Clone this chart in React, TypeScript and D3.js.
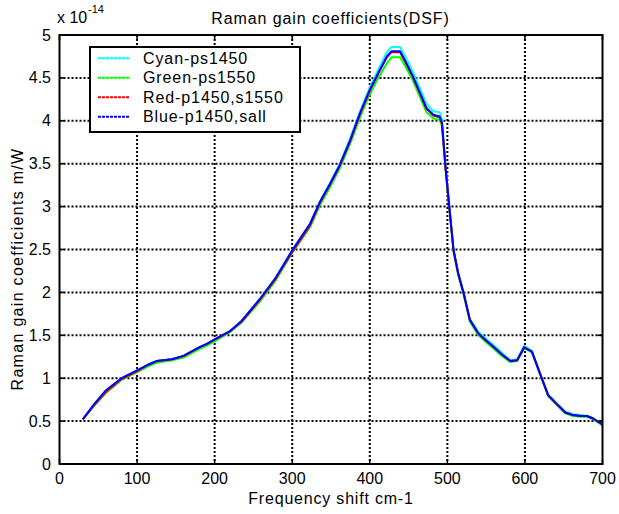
import React from "react";
import * as d3 from "d3";

const shift = [30, 45, 60, 80, 100, 115, 125, 145, 160, 180, 190, 202, 220, 235, 258, 278, 300, 323, 336, 349, 361, 375, 387, 400, 411, 422, 428, 439, 445, 456, 465, 473, 482, 490, 493, 498, 503, 508, 514, 521, 529, 540, 551, 559, 570, 581, 590, 599, 609, 620, 630, 641, 652, 662, 672, 680, 688, 700];

const cyan = [0.52, 0.70, 0.86, 1.00, 1.09, 1.16, 1.20, 1.22, 1.26, 1.36, 1.40, 1.46, 1.55, 1.67, 1.92, 2.16, 2.49, 2.80, 3.06, 3.28, 3.49, 3.80, 4.10, 4.39, 4.60, 4.80, 4.86, 4.86, 4.76, 4.56, 4.37, 4.20, 4.11, 4.10, 4.02, 3.44, 2.96, 2.50, 2.23, 2.00, 1.69, 1.54, 1.45, 1.39, 1.30, 1.21, 1.22, 1.38, 1.32, 1.05, 0.81, 0.71, 0.61, 0.58, 0.57, 0.56, 0.53, 0.46];
const green = [0.52, 0.68, 0.83, 0.98, 1.07, 1.14, 1.18, 1.21, 1.24, 1.34, 1.38, 1.44, 1.54, 1.65, 1.89, 2.13, 2.46, 2.76, 3.02, 3.23, 3.44, 3.74, 4.03, 4.31, 4.50, 4.67, 4.74, 4.74, 4.65, 4.46, 4.27, 4.10, 4.03, 4.01, 3.94, 3.40, 2.93, 2.47, 2.20, 1.97, 1.66, 1.50, 1.41, 1.35, 1.26, 1.19, 1.20, 1.35, 1.30, 1.03, 0.79, 0.69, 0.59, 0.56, 0.55, 0.55, 0.52, 0.45];
const red = [0.52, 0.69, 0.84, 0.99, 1.08, 1.16, 1.20, 1.22, 1.26, 1.36, 1.40, 1.46, 1.55, 1.66, 1.91, 2.15, 2.47, 2.78, 3.05, 3.26, 3.47, 3.77, 4.07, 4.35, 4.55, 4.74, 4.80, 4.80, 4.70, 4.50, 4.31, 4.14, 4.06, 4.04, 3.97, 3.42, 2.95, 2.49, 2.22, 1.99, 1.68, 1.52, 1.43, 1.37, 1.28, 1.20, 1.21, 1.36, 1.31, 1.04, 0.80, 0.70, 0.60, 0.57, 0.56, 0.56, 0.53, 0.46];
const blue = [0.52, 0.70, 0.86, 1.00, 1.09, 1.16, 1.20, 1.22, 1.26, 1.36, 1.40, 1.46, 1.55, 1.67, 1.92, 2.16, 2.49, 2.80, 3.06, 3.27, 3.48, 3.78, 4.08, 4.36, 4.56, 4.75, 4.81, 4.81, 4.71, 4.51, 4.32, 4.15, 4.07, 4.05, 3.98, 3.42, 2.95, 2.49, 2.22, 1.99, 1.68, 1.52, 1.43, 1.37, 1.28, 1.20, 1.21, 1.36, 1.31, 1.04, 0.80, 0.70, 0.60, 0.57, 0.56, 0.56, 0.53, 0.46];

const seriesNames = ["Cyan-ps1450", "Green-ps1550", "Red-p1450,s1550", "Blue-p1450,sall"];
const seriesColors = ["#00ffff", "#00ff00", "#ff0000", "#0000ff"];
const seriesValues = [cyan, green, red, blue];

const xTicks = [0, 100, 200, 300, 400, 500, 600, 700];
const yTicks = [0, 0.5, 1, 1.5, 2, 2.5, 3, 3.5, 4, 4.5, 5];

const W = 619, H = 514;
const L = 59.5, R = 602.5, T = 35, B = 464;
const FONT = "'Liberation Sans', Arial, Helvetica, sans-serif";

export default function App() {
  const x = d3.scaleLinear().domain([0, 700]).range([L, R]);
  const y = d3.scaleLinear().domain([0, 5]).range([B, T]);
  const line = d3.line<[number, number]>().x(d => x(d[0])).y(d => y(d[1]));

  return (
    <svg width={W} height={H} style={{ position: "absolute", left: 0, top: 0, background: "#fff" }} fontFamily={FONT}>
      <rect x={0} y={0} width={W} height={H} fill="#fff" />
      {/* grid */}
      {xTicks.slice(1, -1).map(t => (
        <line key={"gx" + t} x1={x(t)} x2={x(t)} y1={T} y2={B} stroke="#000" strokeWidth={2} strokeDasharray="2,2" />
      ))}
      {yTicks.slice(1, -1).map(t => (
        <line key={"gy" + t} x1={L} x2={R} y1={y(t)} y2={y(t)} stroke="#000" strokeWidth={2} strokeDasharray="2,2" />
      ))}
      {/* curves */}
      {seriesValues.map((vals, i) => (
        <path key={"s" + i} d={line(shift.map((s, j) => [s, vals[j]]) as [number, number][]) || ""} fill="none" stroke={seriesColors[i]} strokeWidth={2} strokeLinejoin="round" />
      ))}
      {/* axes box */}
      <rect x={L} y={T} width={R - L} height={B - T} fill="none" stroke="#000" strokeWidth={2} />
      {/* ticks */}
      {xTicks.map(t => (
        <g key={"tx" + t}>
          <line x1={x(t)} x2={x(t)} y1={B} y2={B - 5} stroke="#000" strokeWidth={1.5} />
          <line x1={x(t)} x2={x(t)} y1={T} y2={T + 5} stroke="#000" strokeWidth={1.5} />
          <text x={x(t)} y={484} fontSize={16} textAnchor="middle">{t}</text>
        </g>
      ))}
      {yTicks.map(t => (
        <g key={"ty" + t}>
          <line x1={L} x2={L + 5} y1={y(t)} y2={y(t)} stroke="#000" strokeWidth={1.5} />
          <line x1={R} x2={R - 5} y1={y(t)} y2={y(t)} stroke="#000" strokeWidth={1.5} />
          <text x={51} y={y(t) + 5.5} fontSize={16} textAnchor="end">{t}</text>
        </g>
      ))}
      {/* exponent */}
      <text x={57} y={23} fontSize={16}>x 10</text>
      <text x={88} y={13} fontSize={11}>-14</text>
      {/* title and labels */}
      <text x={330.5} y={24} fontSize={16} textAnchor="middle" letterSpacing={0.9}>Raman gain coefficients(DSF)</text>
      <text x={331} y={504} fontSize={16} textAnchor="middle" letterSpacing={0.8}>Frequency shift cm-1</text>
      <text transform={`translate(23,269) rotate(-90)`} fontSize={16} textAnchor="middle" letterSpacing={1.3}>Raman gain coefficients m/W</text>
      {/* legend */}
      <rect x={90} y={47} width={210} height={85} fill="#fff" stroke="#000" strokeWidth={2} />
      {seriesNames.map((n, i) => {
        const ry = 58.3 + i * 19.5;
        return (
          <g key={"lg" + i}>
            <line x1={98} x2={130} y1={ry} y2={ry} stroke={seriesColors[i]} strokeWidth={2} strokeDasharray="3,1" />
            <text x={143} y={ry + 5.5} fontSize={16} letterSpacing={0.9}>{n}</text>
          </g>
        );
      })}
    </svg>
  );
}
